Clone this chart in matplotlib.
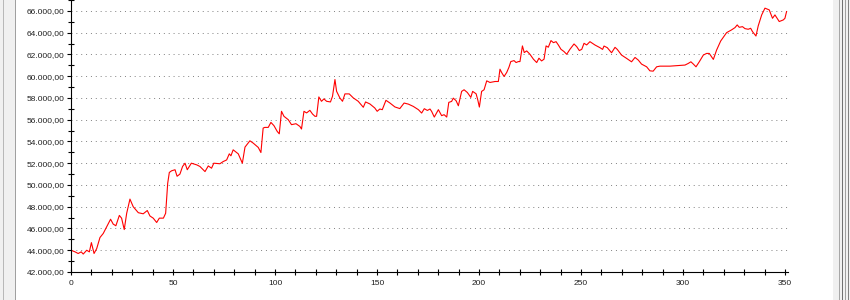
import matplotlib
matplotlib.use("Agg")
import matplotlib.pyplot as plt
from matplotlib.ticker import MultipleLocator, FuncFormatter
from matplotlib.patches import Rectangle

# values (index, value)
xs_a = [0, 2, 3.5, 5, 6, 7.7, 9, 10, 11.3, 12.6, 14.2, 15.8, 17.5, 19.4, 20.7, 22,
        23.7, 24.8, 26.1, 27.3, 28.9, 30.5, 33, 35.4, 37.4, 38.7, 40.3, 42, 43.3,
        45.3, 46.4, 47.4, 48.2, 49.3, 51, 52, 53.4, 54.7, 55.9, 57, 59, 61.6]
ys_a = [44000, 43850, 43700, 43850, 43650, 44000, 43850, 44700, 43700, 44150, 45170,
        45540, 46150, 46850, 46400, 46250, 47200, 46950, 45900, 47400, 48700, 48000,
        47450, 47350, 47650, 47150, 46950, 46550, 46950, 46950, 47400, 50150, 51150,
        51300, 51400, 50800, 51000, 51700, 52000, 51400, 52000, 51850]

xs_b = [63.2, 65.7, 67.3, 68.9, 70, 73, 74.6, 76.3, 77.6, 78.4, 79.5, 82, 84, 85.3,
        87.7, 89.3, 91.8, 93.1, 94.2, 95, 96.7, 98, 99.5, 101.1, 102.1, 103.2, 104.4,
        106.5, 108.1, 110.3, 112.2, 113, 114.2, 115.5, 117.1, 118.4, 119.6, 120.4,
        121.5, 122.8, 124, 125.3, 127.2, 128.2, 129.4, 130.2, 131.8, 133.1, 134.3,
        136.4, 138.4, 140.8, 143.3, 144.4, 146.5, 148.9, 150.1, 151.4, 152.6, 154.4,
        156.3, 158.8, 161.2]
ys_b = [51700, 51230, 51750, 51540, 52000, 51950, 52150, 52300, 52860, 52680, 53230,
        52860, 52000, 53480, 54060, 53850, 53450, 52980, 55230, 55290, 55290, 55750,
        55450, 54920, 54700, 56770, 56310, 56000, 55540, 55630, 55380, 55140, 56770,
        56620, 56860, 56520, 56310, 56310, 58090, 57690, 57910, 57690, 57630, 58150,
        59690, 58610, 58000, 57690, 58370, 58370, 58000, 57690, 57140, 57630, 57450,
        57080, 56770, 56980, 56920, 57780, 57540, 57170, 57020]

xs_c = [163.3, 165.4, 167.8, 170.3, 171.9, 173.2, 174.7, 176, 176.8, 178.1, 180.1,
        181.7, 182.9, 184.2, 185.2, 186.6, 187.4, 188.8, 189.9, 191.5, 192.7, 194.3,
        196, 196.9, 198.6, 199.4, 200.2, 201.3, 202.5, 203.8, 205.4, 207.9, 209.5,
        210.3, 211.1, 212.3, 213.6, 214.7, 215.6, 217.2, 218.2, 219.3, 220.1, 221.3,
        222.2, 223.4, 225, 226.7, 228.3, 229.4, 230.7, 231.9, 232.9, 234, 235.3,
        236.5, 237.8, 238.9, 240.2, 241.7, 243, 244.6, 246.6, 247.9, 249.2, 250.4,
        251.5, 252.8, 254.4]
ys_c = [57530, 57430, 57220, 56920, 56610, 57010, 56850, 56980, 56760, 56240, 56920,
        56370, 56460, 56240, 57590, 57680, 57980, 57740, 57280, 58600, 58750, 58500,
        58050, 58600, 58380, 57830, 57160, 58600, 58750, 59570, 59420, 59510, 59510,
        60640, 60340, 59970, 60340, 60820, 61340, 61430, 61250, 61340, 61340, 62780,
        62170, 62320, 62010, 61560, 61250, 61650, 61400, 61560, 62780, 62660, 63270,
        63080, 63170, 62870, 62470, 62260, 62010, 62470, 62960, 62720, 62350, 62470,
        63020, 62870, 63170]

xs_d = [256.9, 259.3, 260.6, 261.3, 262.9, 265, 266.7, 267.8, 269.9, 272.4, 274.8,
        276.5, 278.1, 279.7, 282.2, 283.8, 285.4, 287.1, 288.7, 293.6, 298.5, 301,
        302.6, 303.9, 305.1, 306.4, 308, 310, 311.6, 312.9, 314.9, 316.5, 318.5,
        321.4, 323.8, 325.5, 326.6, 327.6, 329.2, 330.4, 332, 333.2, 334.1, 335.8,
        336.9, 338.6, 340.2, 342.3, 343.9, 345.1, 347.2, 349.2, 350, 350.8]
ys_d = [62860, 62620, 62460, 62770, 62620, 62150, 62650, 62460, 61940, 61630, 61320,
        61720, 61480, 61110, 60860, 60490, 60460, 60860, 60920, 60920, 60980, 61020,
        61170, 61320, 61110, 60860, 61320, 61940, 62090, 62090, 61540, 62400, 63230,
        64000, 64250, 64460, 64710, 64490, 64550, 64370, 64310, 64400, 64090, 63690,
        64620, 65630, 66250, 66090, 65320, 65630, 65020, 65170, 65320, 65940]

xs = xs_a + xs_b + xs_c + xs_d
ys = ys_a + ys_b + ys_c + ys_d


def br_fmt(v, pos):
    s = f"{v:,.2f}"
    return s.replace(",", "X").replace(".", ",").replace("X", ".")


W, H = 850, 300
fig = plt.figure(figsize=(W / 100, H / 100), dpi=100)
ax = fig.add_axes([71 / W, 28 / H, (788 - 71) / W, 272 / H])

ax.plot(xs, ys, color="#ff0000", lw=0.8)

ax.set_xlim(0, 351.5)
ax.set_ylim(42000, 67000)
ax.xaxis.set_major_locator(MultipleLocator(50))
ax.xaxis.set_minor_locator(MultipleLocator(10))
ax.yaxis.set_major_locator(MultipleLocator(2000))
ax.yaxis.set_minor_locator(MultipleLocator(1000))
ax.yaxis.set_major_formatter(FuncFormatter(br_fmt))

ax.spines["top"].set_visible(False)
ax.spines["right"].set_visible(False)
for s in ("left", "bottom"):
    ax.spines[s].set_color("black")
    ax.spines[s].set_linewidth(0.8)

ax.tick_params(axis="y", which="major", direction="out", length=3, width=0.8,
               labelsize=6, pad=1.5, colors="black")
ax.tick_params(axis="y", which="minor", direction="inout", length=5, width=0.8)
ax.tick_params(axis="x", which="both", direction="inout", length=5, width=0.8,
               labelsize=6, pad=3, colors="black")
for lab in ax.get_xticklabels() + ax.get_yticklabels():
    lab.set_fontfamily("Liberation Sans")
    lab.set_color("#202020")

ax.grid(axis="y", which="major", color="#808080", linestyle=(0, (1, 4)), lw=0.7)
ax.set_axisbelow(True)

# window frame bits on both edges
fig.patches.append(Rectangle((0, 0), 16 / W, 1, transform=fig.transFigure,
                             facecolor="#f0f0f0", edgecolor="none"))
fig.patches.append(Rectangle((3 / W, 0), 1 / W, 1, transform=fig.transFigure,
                             facecolor="#b8b8b8", edgecolor="none"))
fig.patches.append(Rectangle((15 / W, 0), 1 / W, 1, transform=fig.transFigure,
                             facecolor="#a0a0a0", edgecolor="none"))
fig.patches.append(Rectangle((833 / W, 0), 17 / W, 1, transform=fig.transFigure,
                             facecolor="#f0f0f0", edgecolor="none"))
for px, c in [(839, "#a8a8a8"), (842, "#707070"), (845, "#a0a0a0"), (848, "#808080")]:
    fig.patches.append(Rectangle((px / W, 0), 1 / W, 1, transform=fig.transFigure,
                                 facecolor=c, edgecolor="none"))

fig.savefig("out.png", dpi=100)
